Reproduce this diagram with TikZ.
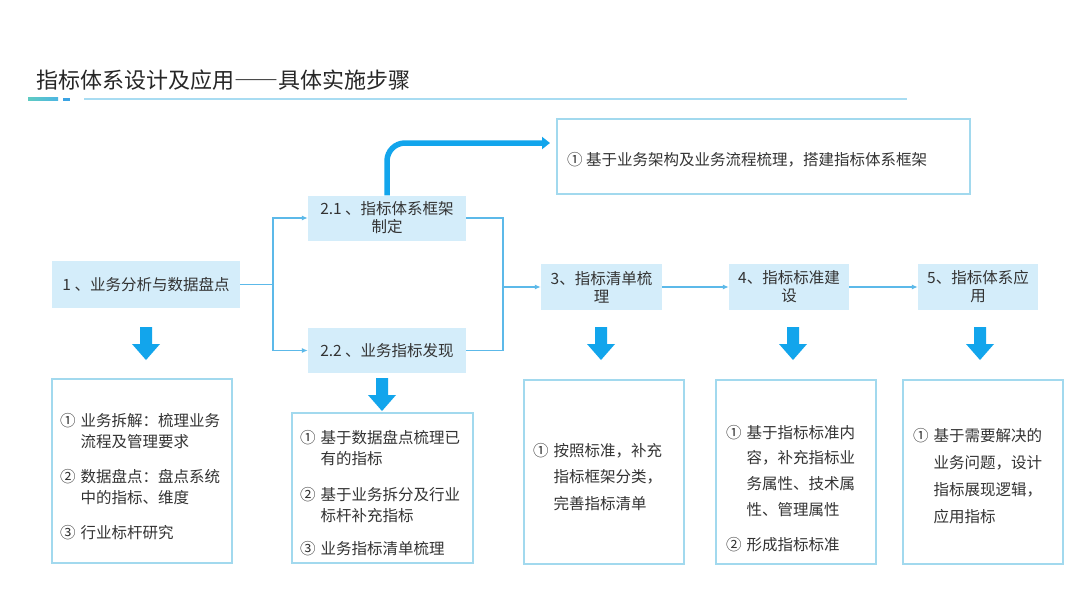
\documentclass[tikz,border=0pt]{standalone}
\usepackage{fontspec}
\setmainfont{Noto Sans CJK SC}
\newfontfamily\titlefont[RawFeature=+fwid]{Noto Sans CJK SC}
\usetikzlibrary{arrows.meta}
\definecolor{boxfill}{HTML}{D4EDFA}
\definecolor{conn}{HTML}{5CB9E9}
\definecolor{abl}{HTML}{12A5EC}
\definecolor{bord}{HTML}{A2D9EE}
\definecolor{txt}{HTML}{333333}
\definecolor{ttl}{HTML}{262626}
\definecolor{tealA}{HTML}{5FCBC2}
\definecolor{tealB}{HTML}{4DB6E2}
\definecolor{dotb}{HTML}{3BA3E3}
\definecolor{uline}{HTML}{A8DCF2}
\begin{document}
\begin{tikzpicture}[x=1pt,y=-1pt,
  lbl/.style={fill=boxfill, inner sep=0pt, align=center, text=txt,
    font=\fontsize{15.5}{18}\selectfont},
  obox/.style={draw=bord, line width=1.3pt, fill=white, inner sep=0pt},
  cline/.style={draw=conn, line width=1.1pt},
  carrow/.style={cline, -{Latex[length=6pt,width=5pt]}},
  bigarrow/.style={draw=abl, line width=5.5pt, -{Triangle[length=8pt,width=12pt]}, rounded corners=18pt},
  itemtxt/.style={anchor=base west, inner sep=0pt, text=txt},
  darrow/.pic={\fill[abl] (-6,0) -- (6,0) -- (6,17) -- (14,17) -- (0,33) -- (-14,17) -- (-6,17) -- cycle;}
]
\fill[white] (0,0) rectangle (1080,608);
\useasboundingbox (0,0) rectangle (1080,608);

% title
\node[anchor=west, inner sep=0pt, text=ttl, font=\titlefont\fontsize{22}{26}\selectfont] (title) at (36,80) {指标体系设计及应用——具体实施步骤};
\shade[left color=tealA, right color=tealB] (28,97.5) rectangle (58,100.5);
\fill[dotb] (63,97.5) rectangle (70,100.5);
\draw[uline, line width=1.3pt] (84,99) -- (907,99);

% label boxes
\node[lbl, minimum width=188pt, minimum height=47pt] (b1) at (146,284.5) {1 、业务分析与数据盘点};
\node[lbl, minimum width=158pt, minimum height=45pt] (b21) at (387,218) {2.1 、指标体系框架\\制定};
\node[lbl, minimum width=158pt, minimum height=45pt] (b22) at (387,350.5) {2.2 、业务指标发现};
\node[lbl, minimum width=121pt, minimum height=46pt] (b3) at (601.5,287) {3、指标清单梳\\理};
\node[lbl, minimum width=120pt, minimum height=46pt] (b4) at (789,287) {4、指标标准建\\设};
\node[lbl, minimum width=120pt, minimum height=46pt] (b5) at (978,287) {5、指标体系应\\用};

% top box
\node[obox, minimum width=413pt, minimum height=75pt] (top) at (763.5,156.5) {};
\node[itemtxt, anchor=west, font=\fontsize{15.5}{18}\selectfont] (toptext) at (567,160) {① 基于业务架构及业务流程梳理，搭建指标体系框架};

% bottom boxes
\node[obox, minimum width=180pt, minimum height=184pt] (o1) at (142,471) {};
\node[obox, minimum width=181pt, minimum height=150pt] (o2) at (382.5,488) {};
\node[obox, minimum width=160pt, minimum height=184pt] (o3) at (604,472) {};
\node[obox, minimum width=160pt, minimum height=184pt] (o4) at (796,472) {};
\node[obox, minimum width=160pt, minimum height=184pt] (o5) at (983,472) {};

\node[itemtxt, font=\fontsize{15.5}{21}\selectfont] (t1) at (60,426) {\begin{tabular}[t]{@{}l@{\hspace{5pt}}l@{}}
① & 业务拆解：梳理业务\\ & 流程及管理要求\\[14pt]
② & 数据盘点：盘点系统\\ & 中的指标、维度\\[14pt]
③ & 行业标杆研究\end{tabular}};

\node[itemtxt, font=\fontsize{15.5}{21.5}\selectfont] (t2) at (300,443) {\begin{tabular}[t]{@{}l@{\hspace{5pt}}l@{}}
① & 基于数据盘点梳理已\\ & 有的指标\\[14pt]
② & 基于业务拆分及行业\\ & 标杆补充指标\\[11pt]
③ & 业务指标清单梳理\end{tabular}};

\node[itemtxt, font=\fontsize{15.5}{26.5}\selectfont] (t3) at (533,456) {\begin{tabular}[t]{@{}l@{\hspace{5pt}}l@{}}
① & 按照标准，补充\\ & 指标框架分类，\\ & 完善指标清单\end{tabular}};

\node[itemtxt, font=\fontsize{15.5}{25.7}\selectfont] (t4) at (726,438) {\begin{tabular}[t]{@{}l@{\hspace{5pt}}l@{}}
① & 基于指标标准内\\ & 容，补充指标业\\ & 务属性、技术属\\ & 性、管理属性\\[10pt]
② & 形成指标标准\end{tabular}};

\node[itemtxt, font=\fontsize{15.5}{27}\selectfont] (t5) at (913,441) {\begin{tabular}[t]{@{}l@{\hspace{5pt}}l@{}}
① & 基于需要解决的\\ & 业务问题，设计\\ & 指标展现逻辑，\\ & 应用指标\end{tabular}};

% connectors
\coordinate (j1) at (273,284.5);
\coordinate (j2) at (503,287);
\draw[cline] (b1.east) -- (j1);
\draw[carrow] (j1) |- (b21.west);
\draw[carrow] (j1) |- (b22.west);
\draw[cline] (b21.east) -| (j2);
\draw[cline] (b22.east) -| (j2);
\draw[carrow] (j2) -- (b3.west);
\draw[carrow] (b3.east) -- (b4.west);
\draw[carrow] (b4.east) -- (b5.west);

% thick arrow
\coordinate (tA) at (550,143);
\draw[bigarrow] (b21.north) |- (tA);

% down arrows
\pic at (146,327) {darrow};
\pic at (382,378) {darrow};
\pic at (601,327) {darrow};
\pic at (793,327) {darrow};
\pic at (980,327) {darrow};
\end{tikzpicture}
\end{document}
